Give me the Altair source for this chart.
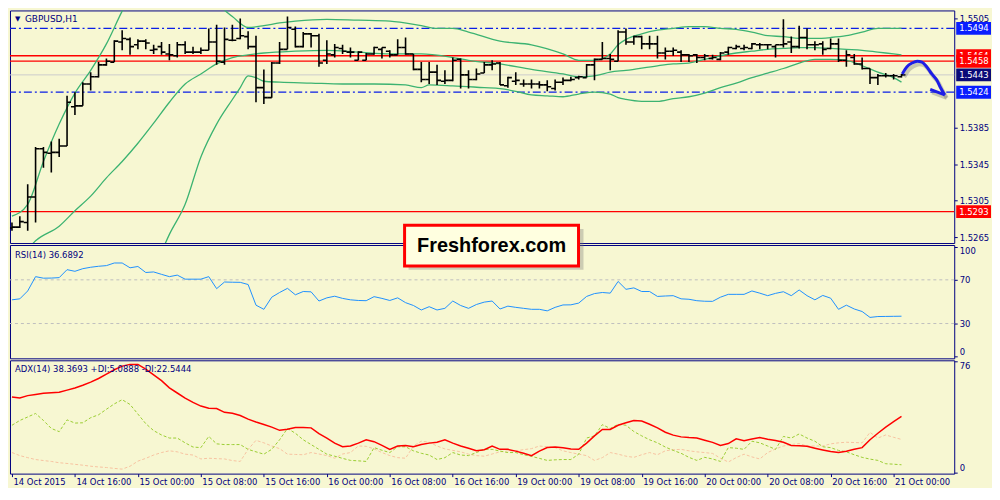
import json
import altair as alt
import pandas as pd

# ---------------- data ----------------
symbol_title = "GBPUSD,H1"
rsi_title = "RSI(14) 36.6892"
adx_title = "ADX(14) 38.3693 +DI:5.0888 -DI:22.5444"
watermark = "Freshforex.com"

x_labels = ["14 Oct 2015", "14 Oct 16:00", "15 Oct 00:00", "15 Oct 08:00", "15 Oct 16:00",
            "16 Oct 00:00", "16 Oct 08:00", "16 Oct 16:00", "19 Oct 00:00", "19 Oct 08:00",
            "19 Oct 16:00", "20 Oct 00:00", "20 Oct 08:00", "20 Oct 16:00", "21 Oct 00:00"]
x_label_pos = [0, 8, 16, 24, 32, 40, 48, 56, 64, 72, 80, 88, 96, 104, 112]

bar_open = [1.5275, 1.5276, 1.5281, 1.5309, 1.5362, 1.5357, 1.5358, 1.5365, 1.5408, 1.5409,
            1.5433, 1.5441, 1.5454, 1.5457, 1.5479, 1.5482, 1.5476, 1.5480, 1.5470, 1.5474,
            1.5466, 1.5464, 1.5476, 1.5468, 1.5468, 1.5470, 1.5479, 1.5457, 1.5481, 1.5483,
            1.5485, 1.5474, 1.5429, 1.5418, 1.5456, 1.5471, 1.5493, 1.5474, 1.5488, 1.5486,
            1.5459, 1.5465, 1.5472, 1.5468, 1.5459, 1.5459, 1.5466, 1.5471, 1.5469, 1.5465,
            1.5473, 1.5466, 1.5449, 1.5438, 1.5446, 1.5436, 1.5437, 1.5460, 1.5443, 1.5438,
            1.5445, 1.5454, 1.5456, 1.5431, 1.5436, 1.5433, 1.5433, 1.5433, 1.5432, 1.5428,
            1.5435, 1.5437, 1.5440, 1.5440, 1.5454, 1.5460, 1.5461, 1.5458, 1.5490, 1.5479,
            1.5485, 1.5477, 1.5477, 1.5467, 1.5469, 1.5468, 1.5465, 1.5465, 1.5462, 1.5461,
            1.5460, 1.5468, 1.5472, 1.5472, 1.5472, 1.5476, 1.5476, 1.5474, 1.5476, 1.5479,
            1.5474, 1.5484, 1.5476, 1.5477, 1.5472, 1.5477, 1.5459, 1.5462, 1.5455, 1.5450,
            1.5440, 1.5442, 1.5442, 1.5441]
bar_high = [1.5281, 1.5288, 1.5323, 1.5364, 1.5364, 1.5370, 1.5373, 1.5420, 1.5424, 1.5435,
            1.5446, 1.5457, 1.5461, 1.5481, 1.5492, 1.5484, 1.5482, 1.5482, 1.5476, 1.5479,
            1.5477, 1.5479, 1.5480, 1.5474, 1.5473, 1.5494, 1.5498, 1.5495, 1.5498, 1.5505,
            1.5491, 1.5486, 1.5449, 1.5457, 1.5479, 1.5507, 1.5496, 1.5490, 1.5489, 1.5488,
            1.5481, 1.5477, 1.5476, 1.5473, 1.5469, 1.5467, 1.5474, 1.5473, 1.5470, 1.5482,
            1.5484, 1.5466, 1.5457, 1.5457, 1.5454, 1.5448, 1.5462, 1.5461, 1.5448, 1.5450,
            1.5457, 1.5459, 1.5457, 1.5441, 1.5446, 1.5438, 1.5438, 1.5436, 1.5437, 1.5438,
            1.5440, 1.5441, 1.5442, 1.5455, 1.5461, 1.5479, 1.5466, 1.5492, 1.5494, 1.5486,
            1.5486, 1.5486, 1.5486, 1.5473, 1.5473, 1.5470, 1.5466, 1.5466, 1.5466, 1.5465,
            1.5468, 1.5474, 1.5476, 1.5476, 1.5478, 1.5478, 1.5477, 1.5476, 1.5504, 1.5485,
            1.5497, 1.5494, 1.5480, 1.5480, 1.5483, 1.5483, 1.5470, 1.5466, 1.5462, 1.5450,
            1.5444, 1.5445, 1.5444, 1.5444]
bar_low = [1.5272, 1.5275, 1.5272, 1.5281, 1.5341, 1.5336, 1.5353, 1.5365, 1.5399, 1.5409,
           1.5426, 1.5440, 1.5453, 1.5457, 1.5470, 1.5465, 1.5471, 1.5471, 1.5466, 1.5465,
           1.5459, 1.5462, 1.5466, 1.5466, 1.5466, 1.5470, 1.5454, 1.5454, 1.5480, 1.5482,
           1.5471, 1.5413, 1.5411, 1.5418, 1.5455, 1.5471, 1.5473, 1.5473, 1.5473, 1.5452,
           1.5455, 1.5462, 1.5466, 1.5462, 1.5459, 1.5459, 1.5465, 1.5461, 1.5462, 1.5465,
           1.5465, 1.5448, 1.5435, 1.5433, 1.5432, 1.5433, 1.5436, 1.5428, 1.5428, 1.5437,
           1.5445, 1.5448, 1.5432, 1.5429, 1.5432, 1.5430, 1.5428, 1.5428, 1.5425, 1.5426,
           1.5432, 1.5436, 1.5438, 1.5440, 1.5437, 1.5460, 1.5448, 1.5458, 1.5476, 1.5476,
           1.5471, 1.5471, 1.5461, 1.5460, 1.5464, 1.5457, 1.5457, 1.5456, 1.5459, 1.5460,
           1.5459, 1.5465, 1.5471, 1.5470, 1.5471, 1.5471, 1.5471, 1.5462, 1.5473, 1.5467,
           1.5472, 1.5471, 1.5470, 1.5465, 1.5471, 1.5457, 1.5452, 1.5454, 1.5449, 1.5433,
           1.5432, 1.5440, 1.5438, 1.5440]
bar_close = [1.5276, 1.5282, 1.5309, 1.5362, 1.5358, 1.5358, 1.5365, 1.5413, 1.5409, 1.5433,
             1.5441, 1.5454, 1.5458, 1.5480, 1.5483, 1.5474, 1.5480, 1.5478, 1.5471, 1.5468,
             1.5465, 1.5476, 1.5468, 1.5468, 1.5470, 1.5479, 1.5458, 1.5482, 1.5481, 1.5486,
             1.5474, 1.5429, 1.5418, 1.5456, 1.5471, 1.5495, 1.5474, 1.5488, 1.5486, 1.5456,
             1.5466, 1.5473, 1.5469, 1.5468, 1.5468, 1.5466, 1.5473, 1.5473, 1.5465, 1.5473,
             1.5466, 1.5449, 1.5438, 1.5446, 1.5437, 1.5437, 1.5459, 1.5443, 1.5438, 1.5444,
             1.5454, 1.5455, 1.5432, 1.5440, 1.5437, 1.5433, 1.5433, 1.5432, 1.5430, 1.5435,
             1.5437, 1.5438, 1.5441, 1.5454, 1.5460, 1.5461, 1.5460, 1.5490, 1.5479, 1.5485,
             1.5477, 1.5477, 1.5467, 1.5469, 1.5470, 1.5465, 1.5464, 1.5462, 1.5464, 1.5462,
             1.5467, 1.5473, 1.5474, 1.5473, 1.5477, 1.5476, 1.5476, 1.5476, 1.5477, 1.5474,
             1.5484, 1.5476, 1.5476, 1.5471, 1.5477, 1.5459, 1.5465, 1.5455, 1.5450, 1.5440,
             1.5442, 1.5442, 1.5442, 1.5443]

# Bollinger bands (read at selected bars)
bb_up_i = [0, 2, 4, 6, 8, 10, 12, 14, 16, 18, 20, 22, 24, 26, 28, 30, 32, 34, 36, 40,
           44, 48, 52, 54, 56, 58, 62, 66, 70, 72, 74, 76, 77, 78, 80, 82, 84, 86, 88, 90,
           92, 94, 96, 98, 100, 102, 104, 106, 108, 110, 112, 113]
bb_up_v = [1.5288, 1.5301, 1.5348, 1.5389, 1.5423, 1.5448, 1.5477, 1.5513, 1.5544, 1.5561,
           1.5566, 1.5555, 1.5533, 1.5521, 1.5507, 1.5495, 1.5497, 1.5500, 1.5502, 1.5504,
           1.5503, 1.5502, 1.5497, 1.5494, 1.5494, 1.5490, 1.5480, 1.5476, 1.5466, 1.5459,
           1.5459, 1.5466, 1.5476, 1.5482, 1.5488, 1.5492, 1.5494, 1.5496, 1.5496, 1.5494,
           1.5493, 1.5490, 1.5486, 1.5485, 1.5483, 1.5483, 1.5484, 1.5486, 1.5490, 1.5494,
           1.5494, 1.5494]
bb_mid_i = [0, 2, 3, 6, 8, 10, 12, 14, 16, 18, 20, 22, 24, 26, 28, 30, 32, 36, 40, 44,
            48, 52, 56, 58, 62, 66, 70, 72, 74, 76, 78, 82, 84, 86, 88, 90, 92, 94, 96, 98,
            100, 102, 104, 106, 108, 110, 112, 113]
bb_mid_v = [1.5243, 1.5252, 1.5261, 1.5277, 1.5294, 1.5310, 1.5330, 1.5348, 1.5368, 1.5390,
            1.5413, 1.5433, 1.5444, 1.5455, 1.5462, 1.5465, 1.5467, 1.5469, 1.5470, 1.5468,
            1.5466, 1.5466, 1.5462, 1.5459, 1.5455, 1.5449, 1.5444, 1.5441, 1.5442, 1.5446,
            1.5448, 1.5453, 1.5455, 1.5456, 1.5460, 1.5464, 1.5467, 1.5469, 1.5471, 1.5472,
            1.5473, 1.5473, 1.5472, 1.5471, 1.5470, 1.5468, 1.5466, 1.5465]
bb_low_i = [12, 16, 18, 20, 22, 24, 26, 28, 29, 30, 31, 32, 34, 38, 42, 46, 50, 52, 53, 56,
            60, 62, 64, 66, 68, 70, 72, 74, 76, 77, 78, 80, 82, 84, 86, 88, 90, 92, 94, 96,
            98, 100, 102, 104, 106, 108, 110, 112, 113]
bb_low_v = [1.5108, 1.5184, 1.5228, 1.5268, 1.5301, 1.5353, 1.5389, 1.5416, 1.5429, 1.5442,
            1.5440, 1.5436, 1.5435, 1.5434, 1.5433, 1.5433, 1.5432, 1.5429, 1.5432, 1.5431,
            1.5429, 1.5428, 1.5425, 1.5421, 1.5420, 1.5419, 1.5422, 1.5424, 1.5422, 1.5418,
            1.5416, 1.5414, 1.5414, 1.5417, 1.5419, 1.5423, 1.5429, 1.5434, 1.5440, 1.5445,
            1.5450, 1.5456, 1.5460, 1.5460, 1.5459, 1.5453, 1.5446, 1.5440, 1.5435]

red_levels = [1.5464, 1.5458, 1.5293]
blue_levels = [1.5494, 1.5424]
price_level = [1.5443]
main_ticks = [1.5265, 1.5305, 1.5345, 1.5385, 1.5505]
tag_back_vals = [1.5464]
tag_back_cols = ["#FF0000"]
tag_front_vals = [1.5494, 1.5458, 1.5443, 1.5424, 1.5293]
tag_front_cols = ["#0A1EFF", "#FF0000", "#0A0A78", "#0A1EFF", "#FF0000"]

arrow_i = [113.1, 113.7, 114.35, 115.0, 115.6, 116.2, 116.85, 117.5, 117.9, 118.5]
arrow_p = [1.5444, 1.5452, 1.5456, 1.5458, 1.5457, 1.5452, 1.5444, 1.5437, 1.5430, 1.5421]
head_i = [116.65, 118.5]
head_p = [1.5427, 1.5421]

rsi_vals = [51.7, 52.6, 59.8, 72.9, 71.5, 71.6, 72.0, 79.3, 77.8, 80.2,
            81.5, 82.4, 83.0, 85.4, 85.4, 81.0, 82.2, 76.7, 77.2, 75.0,
            72.9, 74.3, 70.6, 70.6, 70.6, 72.9, 61.9, 68.0, 67.8, 67.7,
            65.7, 46.8, 43.0, 54.1, 58.4, 62.2, 56.3, 59.3, 59.0, 50.6,
            53.5, 55.0, 53.0, 51.7, 51.1, 50.9, 54.6, 53.0, 51.1, 53.5,
            49.1, 46.5, 42.4, 45.4, 42.4, 43.9, 50.6, 46.5, 43.9, 47.4,
            49.6, 50.6, 43.3, 45.9, 44.8, 43.9, 43.0, 43.0, 41.6, 44.8,
            47.0, 47.1, 48.7, 54.8, 57.4, 58.4, 57.8, 68.5, 61.3, 62.6,
            59.3, 59.3, 54.8, 55.2, 55.5, 52.6, 52.2, 50.9, 50.4, 50.3,
            54.1, 56.7, 56.7, 56.7, 59.8, 57.8, 55.5, 57.6, 59.1, 55.5,
            60.7, 55.5, 51.7, 55.7, 53.2, 43.0, 46.8, 43.3, 41.0, 35.6,
            36.4, 36.5, 36.6, 36.6892]
rsi_levels = [70, 30]
rsi_ticks = [0, 30, 70, 100]

adx_vals = [51.7, 51.0, 52.7, 53.5, 54.3, 54.7, 55.0, 56.5, 58.0, 59.8,
            62.0, 64.5, 67.5, 70.5, 73.0, 74.2, 74.2, 71.0, 67.0, 63.0,
            58.0, 54.5, 51.0, 48.0, 45.5, 44.0, 43.8, 41.2, 40.5, 39.0,
            36.5, 34.5, 32.8, 31.0, 28.8, 29.5, 30.7, 30.7, 30.5, 26.5,
            23.5, 20.0, 17.5, 18.0, 20.0, 22.3, 21.0, 18.5, 15.7, 18.0,
            18.4, 17.5, 19.0, 20.0, 20.6, 22.3, 20.0, 18.0, 16.5, 14.7,
            15.5, 18.0, 15.7, 15.7, 14.5, 13.0, 11.4, 14.5, 17.0, 17.3,
            16.8, 16.0, 15.7, 20.0, 25.0, 29.4, 29.4, 32.3, 34.0, 35.6,
            35.2, 33.0, 30.5, 27.5, 25.5, 24.3, 23.8, 23.5, 22.0, 20.5,
            18.4, 19.7, 23.0, 21.7, 22.8, 23.9, 22.6, 21.8, 20.6, 18.4,
            18.2, 17.8, 16.5, 15.3, 14.2, 13.5, 14.4, 15.8, 16.9, 22.3,
            26.8, 31.0, 34.8, 38.3693]
pdi_vals = [32.3, 35.6, 38.0, 40.4, 35.6, 30.1, 27.9, 36.0, 33.8, 34.0,
            37.5, 39.5, 43.3, 47.0, 49.9, 46.6, 40.0, 33.4, 28.6, 25.6,
            23.5, 23.5, 20.2, 17.3, 16.9, 24.6, 19.5, 19.0, 19.0, 19.0,
            15.7, 14.0, 12.4, 15.7, 22.3, 30.1, 26.8, 22.3, 19.0, 15.7,
            12.4, 11.0, 9.5, 8.1, 7.8, 7.4, 16.9, 15.1, 13.5, 17.5,
            17.5, 14.7, 13.0, 11.8, 8.7, 10.0, 13.5, 11.8, 11.4, 13.5,
            15.7, 15.7, 14.5, 13.5, 13.5, 12.0, 10.9, 9.5, 8.1, 8.5,
            8.7, 8.7, 12.4, 23.5, 25.0, 32.7, 30.1, 32.9, 32.3, 28.0,
            25.0, 22.3, 20.2, 17.3, 15.0, 13.0, 10.2, 8.1, 10.2, 9.1,
            7.4, 16.9, 16.5, 15.7, 21.3, 20.2, 18.0, 15.7, 24.6, 23.5,
            26.3, 23.5, 21.3, 17.5, 16.9, 15.0, 14.0, 12.0, 10.2, 9.0,
            8.1, 5.8, 5.5, 5.0888]
mdi_vals = [13.5, 11.4, 10.0, 8.7, 8.0, 7.4, 6.5, 6.0, 5.4, 4.8,
            4.1, 3.6, 3.2, 2.6, 2.1, 4.1, 7.6, 9.5, 11.8, 13.5,
            14.7, 14.0, 12.4, 11.8, 9.1, 9.6, 9.3, 9.1, 8.0, 7.4,
            15.7, 21.9, 20.2, 18.0, 16.2, 12.4, 12.2, 12.0, 13.5, 12.5,
            11.4, 9.6, 12.5, 13.5, 18.0, 17.8, 16.0, 13.5, 11.4, 10.0,
            9.6, 18.0, 21.3, 20.6, 18.0, 16.0, 15.0, 14.0, 12.4, 11.4,
            11.0, 12.5, 14.0, 14.7, 14.7, 15.5, 16.2, 18.0, 17.5, 16.9,
            14.7, 13.5, 12.4, 11.4, 8.1, 10.0, 13.5, 12.4, 11.0, 10.2,
            12.0, 13.5, 12.0, 14.7, 15.5, 15.7, 14.7, 14.0, 13.5, 12.9,
            9.6, 7.0, 10.0, 12.4, 10.5, 9.1, 13.5, 16.0, 18.0, 19.0,
            19.7, 18.0, 18.0, 18.0, 19.5, 20.2, 20.6, 20.4, 20.2, 27.4,
            23.5, 25.6, 24.0, 22.5444]
adx_ticks = [0, 76]

# ---------------- style ----------------
NAVY = "#000080"
BG = "#F7F7D2"
FONT = "DejaVu Sans"
W = 950
H_MAIN = 234
H_SUB = 114
XDOM = [-0.25, 119.7]
MAIN_DOM = [1.52585, 1.55137]
RSI_DOM = [-1.85, 101.85]
ADX_DOM = [-1.0, 77.0]

idx = list(range(len(bar_open)))
bars = pd.DataFrame({"i": idx, "o": bar_open, "h": bar_high, "l": bar_low, "c": bar_close})


def axis_y(values, fmt=None):
    kw = dict(orient="right", values=values, domain=False, grid=False, ticks=True,
              tickSize=3, tickColor=NAVY, labelColor=NAVY, labelFont=FONT,
              labelFontSize=8.5, labelPadding=2, labelFlush=4)
    if fmt:
        kw["format"] = fmt
    return alt.Axis(**kw)


AX_MAIN = axis_y(main_ticks, ".4f")
AX_RSI = axis_y(rsi_ticks)
AX_ADX = axis_y(adx_ticks)
AX_X = alt.Axis(orient="bottom", values=x_label_pos,
                labelExpr=json.dumps(x_labels) + "[datum.value / 8]",
                domain=False, grid=False, tickSize=3, tickColor=NAVY,
                labelColor=NAVY, labelFont=FONT, labelFontSize=8.5,
                labelAlign="left", labelOffset=1, labelPadding=1,
                labelOverlap=False, labelFlush=False)


def X(field="i", axis=None):
    return alt.X(f"{field}:Q", scale=alt.Scale(domain=XDOM, nice=False, zero=False),
                 axis=axis, title=None)


def YM(field):
    return alt.Y(f"{field}:Q", scale=alt.Scale(domain=MAIN_DOM, nice=False, zero=False),
                 axis=AX_MAIN, title=None)


def YR(field):
    return alt.Y(f"{field}:Q", scale=alt.Scale(domain=RSI_DOM, nice=False, zero=False),
                 axis=AX_RSI, title=None)


def YA(field):
    return alt.Y(f"{field}:Q", scale=alt.Scale(domain=ADX_DOM, nice=False, zero=False),
                 axis=AX_ADX, title=None)


# ---------------- main panel ----------------
lv_gray = alt.Chart(pd.DataFrame({"p": price_level})).mark_rule(
    color="#CDCDCD", strokeWidth=1).encode(y=YM("p"))
lv_red = alt.Chart(pd.DataFrame({"p": red_levels})).mark_rule(
    color="#FF0000", strokeWidth=1.3).encode(y=YM("p"))
lv_blue = alt.Chart(pd.DataFrame({"p": blue_levels})).mark_rule(
    color="#0A1EE6", strokeWidth=1.2, strokeDash=[8, 3, 2, 3]).encode(y=YM("p"))


def band(ii, vv):
    return alt.Chart(pd.DataFrame({"i": ii, "v": vv})).mark_line(
        color="#3CB371", strokeWidth=1.3, clip=True, interpolate="monotone"
    ).encode(x=X(), y=YM("v"))


b_up = band(bb_up_i, bb_up_v)
b_mid = band(bb_mid_i, bb_mid_v)
b_low = band(bb_low_i, bb_low_v)

bar_hl = alt.Chart(bars).mark_rule(color="black", strokeWidth=1.6, clip=True).encode(
    x=X(), y=YM("l"), y2="h")
bar_o = alt.Chart(bars).mark_rule(color="black", strokeWidth=1.6, clip=True,
                                  xOffset=-4, x2Offset=0).encode(
    x=X(), x2="i", y=YM("o"))
bar_c = alt.Chart(bars).mark_rule(color="black", strokeWidth=1.6, clip=True,
                                  xOffset=0, x2Offset=4).encode(
    x=X(), x2="i", y=YM("c"))


def tag_layers(vals, cols):
    df = pd.DataFrame({"p": vals, "col": cols})
    r = alt.Chart(df).mark_rect(yOffset=-6.5, y2Offset=6.5).encode(
        x=alt.value(W + 2), x2=alt.value(W + 37), y=YM("p"), y2="p",
        color=alt.Color("col:N", scale=None))
    t = alt.Chart(df).mark_text(align="left", baseline="middle", font=FONT,
                                fontSize=8.5, color="white").encode(
        x=alt.value(W + 5), y=YM("p"), text=alt.Text("p:Q", format=".4f"))
    return [r, t]


arrow_df = pd.DataFrame({"i": arrow_i, "p": arrow_p, "k": list(range(len(arrow_i)))})
head_df = pd.DataFrame({"i": head_i, "p": head_p, "k": [0, 1]})
arrow_sh = alt.Chart(arrow_df).mark_line(color="#707070", opacity=0.35, strokeWidth=4,
                                         xOffset=2, yOffset=3, interpolate="monotone").encode(
    x=X(), y=YM("p"), order="k:Q")
head_sh = alt.Chart(head_df).mark_line(color="#707070", opacity=0.35, strokeWidth=4,
                                       xOffset=2, yOffset=3).encode(
    x=X(), y=YM("p"), order="k:Q")
arrow = alt.Chart(arrow_df).mark_line(color="#1E1EE6", strokeWidth=3,
                                      interpolate="monotone").encode(
    x=X(), y=YM("p"), order="k:Q")
head = alt.Chart(head_df).mark_line(color="#1E1EE6", strokeWidth=3).encode(
    x=X(), y=YM("p"), order="k:Q")

title_df = pd.DataFrame({"t": [symbol_title], "m": ["\u25BC"]})
tri = alt.Chart(title_df).mark_text(align="left", baseline="middle", font=FONT,
                                    fontSize=7, color=NAVY).encode(
    x=alt.value(5), y=alt.value(9), text="m:N")
ttl = alt.Chart(title_df).mark_text(align="left", baseline="middle", font=FONT,
                                    fontSize=9, color=NAVY).encode(
    x=alt.value(15), y=alt.value(9), text="t:N")

main = alt.layer(
    lv_gray, lv_red, lv_blue, b_up, b_mid, b_low, bar_hl, bar_o, bar_c,
    *tag_layers(tag_back_vals, tag_back_cols), *tag_layers(tag_front_vals, tag_front_cols),
    arrow_sh, head_sh, arrow, head, tri, ttl
).properties(width=W, height=H_MAIN)

# ---------------- RSI panel ----------------
rsi_df = pd.DataFrame({"i": idx, "v": rsi_vals})
r_lv = alt.Chart(pd.DataFrame({"v": rsi_levels})).mark_rule(
    color="#BEBEBE", strokeDash=[3, 3], strokeWidth=1).encode(y=YR("v"))
r_line = alt.Chart(rsi_df).mark_line(color="#1E90FF", strokeWidth=1).encode(
    x=X(), y=YR("v"))
r_ttl = alt.Chart(pd.DataFrame({"t": [rsi_title]})).mark_text(
    align="left", baseline="middle", font=FONT, fontSize=8.5, color=NAVY).encode(
    x=alt.value(5), y=alt.value(10), text="t:N")
wm_df = pd.DataFrame({"t": [watermark]})
wm_shadow = alt.Chart(wm_df).mark_rect(color="#7A7A7A", opacity=0.35).encode(
    x=alt.value(401), x2=alt.value(577), y=alt.value(-16), y2=alt.value(25))
wm_box = alt.Chart(wm_df).mark_rect(fill="#FFFFE0", stroke="#FF0000", strokeWidth=3).encode(
    x=alt.value(397), x2=alt.value(572), y=alt.value(-20), y2=alt.value(21))
wm_text = alt.Chart(wm_df).mark_text(align="center", baseline="middle",
                                     font="Liberation Sans", fontWeight="bold",
                                     fontSize=20, color="black").encode(
    x=alt.value(484.5), y=alt.value(1), text="t:N")

rsi = alt.layer(r_lv, r_line, r_ttl, wm_shadow, wm_box, wm_text).properties(
    width=W, height=H_SUB)

# ---------------- ADX panel ----------------
adx_df = pd.DataFrame({"i": idx, "adx": adx_vals, "pdi": pdi_vals, "mdi": mdi_vals})
a_mdi = alt.Chart(adx_df).mark_line(color="#F7C3A0", strokeWidth=1, strokeDash=[3, 2]).encode(
    x=X(axis=AX_X), y=YA("mdi"))
a_pdi = alt.Chart(adx_df).mark_line(color="#9ACD32", strokeWidth=1, strokeDash=[3, 2]).encode(
    x=X(axis=AX_X), y=YA("pdi"))
a_adx = alt.Chart(adx_df).mark_line(color="#FF0000", strokeWidth=1.5).encode(
    x=X(axis=AX_X), y=YA("adx"))
a_ttl = alt.Chart(pd.DataFrame({"t": [adx_title]})).mark_text(
    align="left", baseline="middle", font=FONT, fontSize=8.5, color=NAVY).encode(
    x=alt.value(5), y=alt.value(9), text="t:N")

adx = alt.layer(a_mdi, a_pdi, a_adx, a_ttl).properties(width=W, height=H_SUB)

chart = alt.vconcat(main, rsi, adx, spacing=2, bounds="flush").resolve_scale(
    x="independent", y="independent"
).properties(
    background=BG, padding=0
).configure_view(
    stroke=NAVY, strokeWidth=1
)

chart.save("out.html", embed_options={"renderer": "svg", "actions": False})
